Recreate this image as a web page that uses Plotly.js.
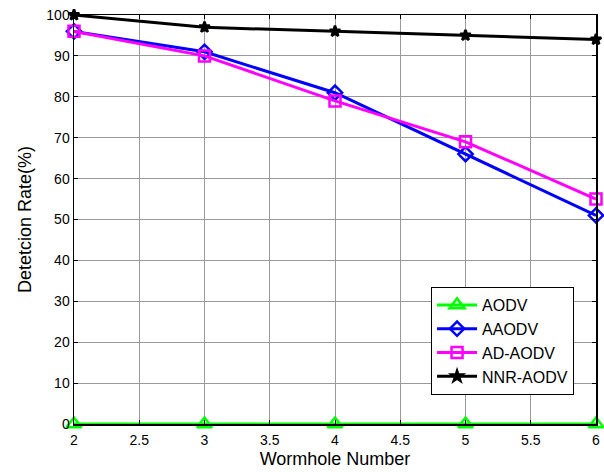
<!DOCTYPE html>
<html><head><meta charset="utf-8">
<script src="https://cdn.plot.ly/plotly-3.0.1.min.js"></script>
<style>body{margin:0;background:#fff}#chart{width:604px;height:472px}</style>
</head><body><div id="chart"></div>
<script>
const wormholes = [2, 3, 4, 5, 6];
const aodv = [0, 0, 0, 0, 0];
const aaodv = [96, 91, 81, 66, 51];
const adAodv = [96, 90, 79, 69, 55];
const nnrAodv = [100, 97, 96, 95, 94];

function tr(name, y, color, symbol, size) {
  return {x: wormholes, y: y, name: name, type: 'scatter', mode: 'lines+markers',
    line: {color: color, width: 3},
    marker: {symbol: symbol, size: size, color: color, line: {color: color, width: 2.5}},
    cliponaxis: false};
}
const data = [
  tr('AODV', aodv, '#00ff00', 'triangle-up-open', 13),
  tr('AAODV', aaodv, '#0000ff', 'diamond-open', 11),
  tr('AD-AODV', adAodv, '#ff00ff', 'square-open', 11),
  tr('NNR-AODV', nnrAodv, '#000000', 'star', 8)
];
const axisCommon = {showline: true, linecolor: '#000', linewidth: 1.5, mirror: 'ticks',
  ticks: 'inside', ticklen: 4, tickcolor: '#000', showgrid: true, gridcolor: '#999',
  gridwidth: 1, zeroline: false, tickfont: {family: 'Liberation Sans, Arial', size: 14, color: '#000'}};
const layout = {
  width: 604, height: 472,
  margin: {l: 74, r: 8, t: 15, b: 48},
  paper_bgcolor: '#fff', plot_bgcolor: '#fff',
  font: {family: 'Liberation Sans, Arial', color: '#000'},
  xaxis: Object.assign({}, axisCommon, {range: [2, 6], dtick: 0.5, ticklabelstandoff: 3,
    title: {text: 'Wormhole Number', font: {size: 18}, standoff: 5}}),
  yaxis: Object.assign({}, axisCommon, {range: [0, 100], dtick: 10,
    title: {text: 'Detetcion Rate(%)', font: {size: 18}, standoff: 10}}),
  showlegend: true,
  legend: {x: 0.684, y: 0.335, xanchor: 'left', yanchor: 'top', bgcolor: '#fff',
    bordercolor: '#000', borderwidth: 1, font: {size: 16, family: 'Liberation Sans, Arial'},
    tracegroupgap: 0, itemwidth: 40}
};
Plotly.newPlot('chart', data, layout, {displayModeBar: false, staticPlot: true});
</script></body></html>
